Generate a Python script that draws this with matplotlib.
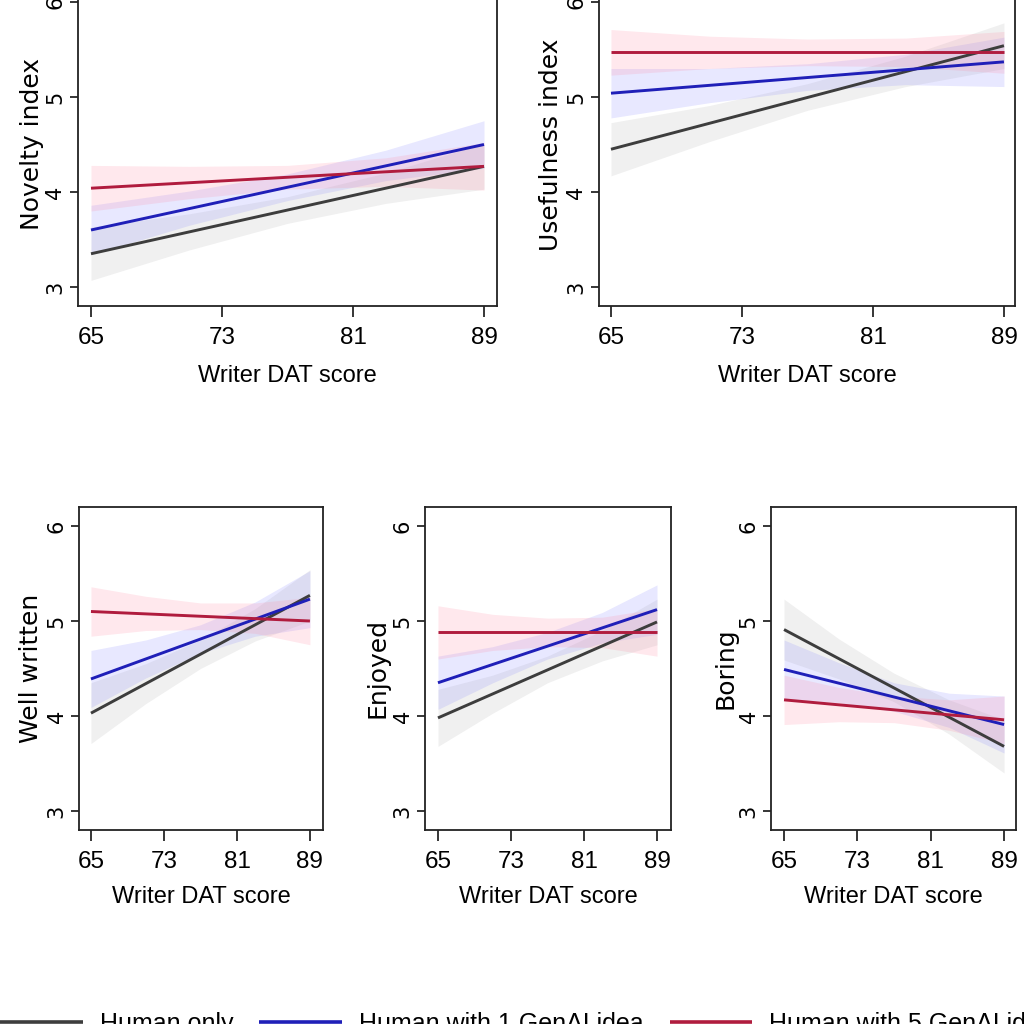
import matplotlib
matplotlib.use("Agg")
import matplotlib.pyplot as plt

W = H = 1024
SANS = ["Liberation Sans", "DejaVu Sans"]
WIDE = ["DejaVu Sans"]
plt.rcParams["font.family"] = SANS

# ---- data ----
x_ends = [65, 89]
x_band = [65, 71, 77, 83, 89]
x_ticks = [65, 73, 81, 89]
y_ticks = [3, 4, 5, 6]

groups = ["Human only", "Human with 1 GenAI idea", "Human with 5 GenAI ideas"]
line_colors = ["#3d3d3d", "#1f1fb8", "#b01c3e"]
band_colors = ["#b4b4b4", "#8c8cff", "#ff8ca5"]

# order inside each list: human only, 1 idea, 5 ideas
novelty_line = [[3.35, 4.27], [3.60, 4.50], [4.04, 4.27]]
novelty_lo = [[3.07, 3.39, 3.67, 3.88, 4.03], [3.34, 3.65, 3.91, 4.12, 4.25], [3.80, 3.93, 4.03, 4.06, 4.02]]
novelty_hi = [[3.63, 3.77, 3.95, 4.20, 4.51], [3.86, 4.01, 4.19, 4.44, 4.75], [4.28, 4.27, 4.28, 4.36, 4.52]]

useful_line = [[4.45, 5.54], [5.04, 5.37], [5.47, 5.47]]
useful_lo = [[4.17, 4.53, 4.86, 5.11, 5.30], [4.78, 4.94, 5.07, 5.13, 5.11], [5.23, 5.30, 5.33, 5.32, 5.25]]
useful_hi = [[4.73, 4.91, 5.14, 5.43, 5.78], [5.30, 5.30, 5.35, 5.45, 5.63], [5.71, 5.64, 5.61, 5.62, 5.69]]

well_line = [[4.03, 5.27], [4.39, 5.23], [5.10, 5.00]]
well_lo = [[3.71, 4.13, 4.50, 4.79, 5.00], [4.09, 4.40, 4.66, 4.84, 4.93], [4.84, 4.90, 4.91, 4.87, 4.75]]
well_hi = [[4.35, 4.55, 4.80, 5.13, 5.54], [4.69, 4.80, 4.96, 5.20, 5.53], [5.36, 5.26, 5.19, 5.19, 5.25]]

enjoy_line = [[3.98, 4.99], [4.35, 5.12], [4.88, 4.88]]
enjoy_lo = [[3.68, 4.03, 4.35, 4.58, 4.75], [4.07, 4.35, 4.60, 4.77, 4.86], [4.60, 4.69, 4.73, 4.72, 4.63]]
enjoy_hi = [[4.28, 4.43, 4.63, 4.90, 5.23], [4.63, 4.73, 4.88, 5.09, 5.38], [5.16, 5.07, 5.03, 5.04, 5.13]]

boring_line = [[4.91, 3.68], [4.49, 3.91], [4.17, 3.96]]
boring_lo = [[4.59, 4.39, 4.15, 3.81, 3.40], [4.18, 4.14, 4.05, 3.88, 3.61], [3.91, 3.94, 3.93, 3.85, 3.71]]
boring_hi = [[5.23, 4.81, 4.45, 4.17, 3.96], [4.80, 4.56, 4.35, 4.24, 4.21], [4.43, 4.30, 4.21, 4.17, 4.21]]

# ---- layout (pixel boxes: left, top, right, bottom) ----
panels = [
    ("Novelty index", novelty_line, novelty_lo, novelty_hi, (77.9, -17, 497.1, 306), (64.2, 89.8), 32, 382),
    ("Usefulness index", useful_line, useful_lo, useful_hi, (598.7, -17, 1015.4, 306), (64.25, 89.7), 551, 382),
    ("Well written", well_line, well_lo, well_hi, (79.1, 507, 322.7, 830), (63.7, 90.4), 31, 903),
    ("Enjoyed", enjoy_line, enjoy_lo, enjoy_hi, (425.2, 507, 670.7, 830), (63.6, 90.5), 378, 903),
    ("Boring", boring_line, boring_lo, boring_hi, (771.2, 507, 1016, 830), (63.6, 90.3), 726, 903),
]


def px_rect(l, t, r, b):
    return [l / W, 1 - b / H, (r - l) / W, (b - t) / H]


fig = plt.figure(figsize=(W / 100, H / 100), dpi=100)
handles = []

for name, lines, lo, hi, box, xlim, ylab_px, xlab_px in panels:
    ax = fig.add_axes(px_rect(*box))
    for k in range(3):
        ax.fill_between(x_band, lo[k], hi[k], color=band_colors[k], alpha=0.2, lw=0)
    hs = []
    for k in range(3):
        h, = ax.plot(x_ends, lines[k], color=line_colors[k], lw=2.1, solid_capstyle="butt")
        hs.append(h)
    handles = hs

    ax.set_xlim(*xlim)
    ax.set_ylim(2.8, 6.2)
    ax.set_xticks(x_ticks)
    ax.set_xticklabels([str(v) for v in x_ticks], fontsize=17.5)
    ax.set_yticks(y_ticks)
    ax.set_yticklabels([str(v) for v in y_ticks], rotation=90, va="center",
                       fontsize=15, family=WIDE)
    ax.tick_params(axis="x", length=8, width=1.1, pad=7, colors="black")
    ax.tick_params(axis="y", length=6, width=1.1, pad=3, colors="black")
    for sp in ax.spines.values():
        sp.set_linewidth(1.3)
        sp.set_color("#222222")

    l, t, r, b = box
    ax.set_ylabel(name, fontsize=18, family=WIDE)
    ax.yaxis.set_label_coords((ylab_px - l) / (r - l), 0.5)
    ax.yaxis.label.set_va("center")
    ax.set_xlabel("Writer DAT score", fontsize=17)
    ax.xaxis.set_label_coords(0.5, -(xlab_px - b) / (b - t))
    ax.xaxis.label.set_va("baseline")

leg = fig.legend(handles, groups, ncol=3, loc="upper left", bbox_to_anchor=(0.0, 1 - 1012 / H),
                 frameon=False, fontsize=18, handlelength=3.3, handletextpad=0.68,
                 columnspacing=1.05, borderpad=0, borderaxespad=0)
for lh in leg.get_lines():
    lh.set_linewidth(2.6)

fig.savefig("out.png", dpi=100)
